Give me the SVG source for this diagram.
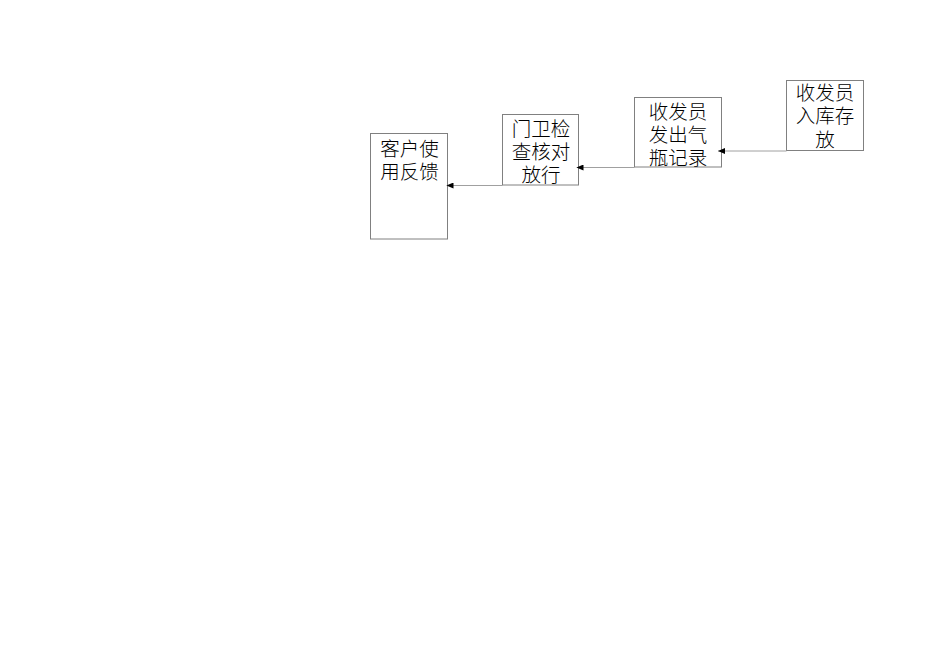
<svg xmlns="http://www.w3.org/2000/svg" width="950" height="672" viewBox="0 0 950 672">
<defs>
<style>
.box{fill:#fff;stroke:#808080;stroke-width:1}
.t{font-family:"Noto Sans CJK SC","Noto Sans CJK JP",sans-serif;font-size:19.5px;font-weight:300;fill:#000;text-anchor:middle}
.c{stroke:#a0a0a0;stroke-width:1;fill:none;marker-end:url(#ah)}
</style>
<marker id="ah" markerWidth="7" markerHeight="6" refX="7" refY="3" orient="auto" markerUnits="userSpaceOnUse">
<path d="M0,0 L7,3 L0,6 Z" fill="#000"/>
</marker>
</defs>
<rect width="950" height="672" fill="#fff"/>
<g id="n1">
<rect class="box" x="370.5" y="133.5" width="77" height="105.5"/>
<text class="t" x="409.5" y="155.5">客户使</text>
<text class="t" x="409.5" y="179">用反馈</text>
</g>
<g id="n2">
<rect class="box" x="502.5" y="114.5" width="76" height="70.5"/>
<text class="t" x="541" y="135.5">门卫检</text>
<text class="t" x="541" y="159">查核对</text>
<text class="t" x="541" y="182">放行</text>
</g>
<g id="n3">
<rect class="box" x="634.5" y="97.5" width="87" height="69.5"/>
<text class="t" x="678" y="118.5">收发员</text>
<text class="t" x="678" y="141.5">发出气</text>
<text class="t" x="678" y="165">瓶记录</text>
</g>
<g id="n4">
<rect class="box" x="786.5" y="80.5" width="77" height="70"/>
<text class="t" x="825" y="99.5">收发员</text>
<text class="t" x="825" y="123">入库存</text>
<text class="t" x="825" y="146.5">放</text>
</g>
<g id="connectors">
<line class="c" x1="786.5" y1="151" x2="718" y2="151"/>
<line class="c" x1="634.5" y1="167.5" x2="576.5" y2="167.5"/>
<line class="c" x1="502.5" y1="185.5" x2="446.5" y2="185.5"/>
</g>
</svg>
